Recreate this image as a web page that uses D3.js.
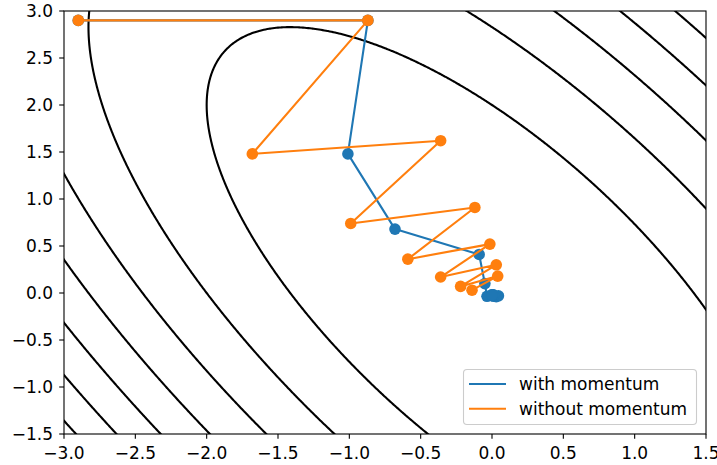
<!DOCTYPE html>
<html>
<head>
<meta charset="utf-8">
<script src="https://cdn.jsdelivr.net/npm/d3@7"></script>
<style>
  body { margin: 0; background: #fff; }
  text { font-family: "DejaVu Sans", sans-serif; }
</style>
</head>
<body>
<div id="chart"></div>
<script>
// gradient descent paths
let withX = [-2.9, -0.87, -1.01, -0.68, -0.09, -0.05, -0.035, 0.045, 0.03, 0.01, 0.01, 0.0, 0.0];
let withY = [2.9, 2.9, 1.48, 0.68, 0.41, 0.10, -0.035, -0.03, -0.04, -0.035, -0.02, -0.02, -0.02];
let withoutX = [-2.9, -0.87, -1.68, -0.36, -0.99, -0.12, -0.59, -0.015, -0.36, 0.03, -0.22, 0.04, -0.14];
let withoutY = [2.9, 2.9, 1.48, 1.62, 0.74, 0.91, 0.36, 0.52, 0.17, 0.30, 0.07, 0.18, 0.03];

// contour function f = a*x^2 + b*x*y + c*y^2 and its levels
let coefA = 1, coefB = 1, coefC = 0.5;
let levels = [2, 4, 6, 8, 10, 12, 14];

let xTicks = [-3.0, -2.5, -2.0, -1.5, -1.0, -0.5, 0.0, 0.5, 1.0, 1.5];
let yTicks = [-1.5, -1.0, -0.5, 0.0, 0.5, 1.0, 1.5, 2.0, 2.5, 3.0];
let seriesNames = ["with momentum", "without momentum"];
let colors = ["#1f77b4", "#ff7f0e"];

let w = 717, h = 465;
let mLeft = 64, mRight = 706, mTop = 11, mBottom = 434;
let fontSize = "17px";

let svg = d3.select("#chart").append("svg").attr("width", w).attr("height", h);

let xScale = d3.scaleLinear().domain([-3, 1.5]).range([mLeft, mRight]);
let yScale = d3.scaleLinear().domain([-1.5, 3]).range([mBottom, mTop]);

svg.append("clipPath").attr("id", "clip")
  .append("rect").attr("x", mLeft).attr("y", mTop)
  .attr("width", mRight - mLeft).attr("height", mBottom - mTop);

// contour grid, a bit bigger than the axes so the grid border gets clipped away
let n = 440, step = 0.0125;
let gx0 = -3.5, gy1 = 3.5;
let values = new Array(n * n);
for (let j = 0; j < n; j++) {
  for (let i = 0; i < n; i++) {
    let x = gx0 + i * step, y = gy1 - j * step;
    values[j * n + i] = coefA * x * x + coefB * x * y + coefC * y * y;
  }
}
let contours = d3.contours().size([n, n]).thresholds(levels)(values);

let proj = d3.geoTransform({
  point: function(px, py) {
    let x = gx0 + (px - 0.5) * step;
    let y = gy1 - (py - 0.5) * step;
    this.stream.point(xScale(x), yScale(y));
  }
});
let path = d3.geoPath().projection(proj);

let plot = svg.append("g").attr("clip-path", "url(#clip)");
plot.selectAll("path.contour")
  .data(contours)
  .enter()
  .append("path")
  .attr("class", "contour")
  .attr("d", path)
  .attr("fill", "none")
  .attr("stroke", "#000")
  .attr("stroke-width", 2.1);

let line = d3.line().x(d => xScale(d[0])).y(d => yScale(d[1]));
let series = [d3.zip(withX, withY), d3.zip(withoutX, withoutY)];

series.forEach(function(pts, k) {
  let g = plot.append("g");
  g.append("path")
    .attr("d", line(pts))
    .attr("fill", "none")
    .attr("stroke", colors[k])
    .attr("stroke-width", 2.1)
    .attr("stroke-linejoin", "round");
  g.selectAll("circle")
    .data(pts)
    .enter()
    .append("circle")
    .attr("cx", d => xScale(d[0]))
    .attr("cy", d => yScale(d[1]))
    .attr("r", 5.8)
    .attr("fill", colors[k]);
});

// axes frame
svg.append("rect")
  .attr("x", mLeft).attr("y", mTop)
  .attr("width", mRight - mLeft).attr("height", mBottom - mTop)
  .attr("fill", "none").attr("stroke", "#000").attr("stroke-width", 1.1);

let fmt = d3.format(".1f");

let xAxis = svg.append("g");
xTicks.forEach(function(t) {
  let x = xScale(t);
  xAxis.append("line").attr("x1", x).attr("x2", x).attr("y1", mBottom).attr("y2", mBottom + 4.8)
    .attr("stroke", "#000").attr("stroke-width", 1.1);
  xAxis.append("text").attr("x", x).attr("y", 458.5).attr("text-anchor", "middle")
    .style("font-size", fontSize).attr("fill", "#000").text(fmt(t));
});

let yAxis = svg.append("g");
yTicks.forEach(function(t) {
  let y = yScale(t);
  yAxis.append("line").attr("x1", mLeft - 4.8).attr("x2", mLeft).attr("y1", y).attr("y2", y)
    .attr("stroke", "#000").attr("stroke-width", 1.1);
  yAxis.append("text").attr("x", 53).attr("y", y + 6.2).attr("text-anchor", "end")
    .style("font-size", fontSize).attr("fill", "#000").text(fmt(t));
});

// legend
let legend = svg.append("g");
legend.append("rect")
  .attr("x", 463.5).attr("y", 369.5).attr("width", 233).attr("height", 55)
  .attr("rx", 3.5)
  .attr("fill", "#fff").attr("fill-opacity", 0.8)
  .attr("stroke", "#cccccc").attr("stroke-width", 1.1);
seriesNames.forEach(function(name, k) {
  let y = 384 + k * 24.7;
  legend.append("line").attr("x1", 469).attr("x2", 506).attr("y1", y).attr("y2", y)
    .attr("stroke", colors[k]).attr("stroke-width", 2.1);
  legend.append("text").attr("x", 519).attr("y", y + 6.2)
    .style("font-size", fontSize).attr("fill", "#000").text(name);
});
</script>
</body>
</html>
